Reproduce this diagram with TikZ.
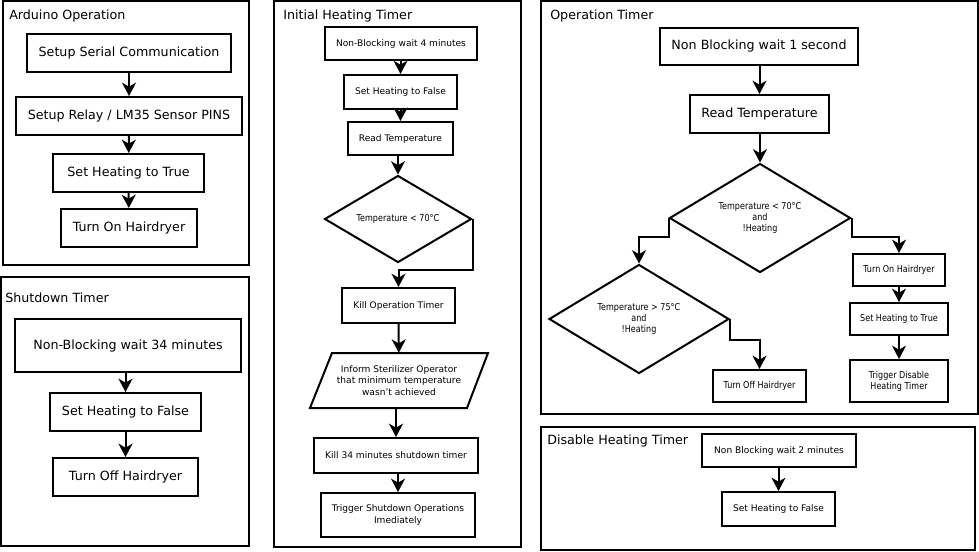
\documentclass[tikz,border=0pt]{standalone}
\usepackage{fontspec}
\setmainfont{DejaVu Sans}
\newfontfamily\condfont{DejaVu Sans}[FakeStretch=0.85]
\usetikzlibrary{shapes.geometric,arrows.meta}
\tikzset{
 x=0.75pt, y=-0.75pt,
 frame/.style={draw, line width=1.5pt},
 ttl/.style={anchor=base west, font=\fontsize{9.5}{11}\selectfont, inner sep=0},
 big/.style={draw, line width=1.5pt, font=\fontsize{9.5}{11.5}\selectfont, inner sep=0, align=center},
 sml/.style={draw, line width=1.5pt, font=\fontsize{6.8}{8.3}\selectfont, inner sep=0, align=center},
 cnd/.style={draw, line width=1.5pt, font=\condfont\fontsize{7.1}{8.3}\selectfont, inner sep=0, align=center},
 dmd/.style={draw, diamond, line width=1.5pt, font=\condfont\fontsize{7.1}{8.3}\selectfont, inner sep=0, align=center, aspect=1.7},
 arr/.style={-{Stealth[length=10pt,width=10.5pt,inset=3pt]}, line width=1.5pt},
}
\newcommand\flowrect[7]{\node[#1, minimum width={(#5-#3)*0.75pt}, minimum height={(#6-#4)*0.75pt}] (#2) at ({(#3+#5)/2},{(#4+#6)/2}) {#7};}
\begin{document}
\begin{tikzpicture}
\useasboundingbox (0,0) rectangle (979,551);
% frames
\draw[frame] (3,1) rectangle (249,265);
\draw[frame] (1,277) rectangle (249,546);
\draw[frame] (274,1) rectangle (521,547);
\draw[frame] (541,1) rectangle (978,414);
\draw[frame] (541,427) rectangle (975,550);
% titles
\node[ttl] (t1) at (9,19) {Arduino Operation};
\node[ttl] (t2) at (5,302) {Shutdown Timer};
\node[ttl] (t3) at (283,19) {Initial Heating Timer};
\node[ttl] (t4) at (550,19) {Operation Timer};
\node[ttl] (t5) at (547,444) {Disable Heating Timer};
% Arduino operation
\flowrect{big}{a1}{27}{34}{231}{72}{Setup Serial Communication}
\flowrect{big}{a2}{16}{97}{242}{135}{Setup Relay / LM35 Sensor PINS}
\flowrect{big}{a3}{53}{154}{204}{192}{Set Heating to True}
\flowrect{big}{a4}{61}{209}{197}{247}{Turn On Hairdryer}
\draw[arr] (a1) -- (a2);
\draw[arr] (a2) -- (a3);
\draw[arr] (a3) -- (a4);
% Shutdown timer
\flowrect{big}{s1}{15}{319}{241}{372}{Non-Blocking wait 34 minutes}
\flowrect{big}{s2}{50}{393}{201}{431}{Set Heating to False}
\flowrect{big}{s3}{53}{458}{198}{496}{Turn Off Hairdryer}
\draw[arr] (s1.south -| s2) -- (s2);
\draw[arr] (s2) -- (s3);
% Initial heating timer
\flowrect{sml}{i1}{325}{27}{477}{60}{Non-Blocking wait 4 minutes}
\flowrect{sml}{i2}{344}{75}{457}{109}{Set Heating to False}
\flowrect{sml}{i3}{348}{122}{453}{155}{Read Temperature}
\node[dmd, minimum width={147*0.75pt}, minimum height={87*0.75pt}] (id) at (398,219) {Temperature < 70°C};
\flowrect{sml}{kop}{342}{288}{455}{323}{Kill Operation Timer}
\node[font=\fontsize{6.8}{8.5}\selectfont, align=center, inner sep=0, minimum width={156*0.75pt}, minimum height={55*0.75pt}] (inf) at (399,380.5) {Inform Sterilizer Operator\\that minimum temperature\\wasn't achieved};
\draw[line width=1.5pt] (332,353) -- (488,353) -- (467,408) -- (310,408) -- cycle;
\flowrect{sml}{k34}{314}{438}{478}{473}{Kill 34 minutes shutdown timer}
\flowrect{sml}{trig}{321}{493}{475}{537}{Trigger Shutdown Operations\\Imediately}
\draw[arr] (i1.south -| i2) -- (i2);
\draw[arr] (i2) -- (i3);
\draw[arr] (i3.south -| id) -- (id);
\draw[arr] (id.east) -- ++(0,51) -| (kop.north);
\draw[arr] (kop) -- (inf);
\draw[arr] (inf.south -| k34) -- (k34);
\draw[arr] (k34.south -| trig) -- (trig);
% Operation timer
\flowrect{big}{o1}{660}{28}{858}{65}{Non Blocking wait 1 second}
\flowrect{big}{o2}{690}{95}{829}{133}{Read Temperature}
\node[dmd, minimum width={181*0.75pt}, minimum height={109*0.75pt}] (od1) at (760,218) {Temperature < 70°C\\and\\!Heating};
\node[dmd, minimum width={180*0.75pt}, minimum height={109*0.75pt}] (od2) at (639,319) {Temperature > 75°C\\and\\!Heating};
\flowrect{cnd}{ton}{853}{254}{945}{286}{Turn On Hairdryer}
\flowrect{cnd}{sht}{850}{303}{948}{335}{Set Heating to True}
\flowrect{cnd}{tdis}{850}{360}{948}{402}{Trigger Disable\\Heating Timer}
\flowrect{cnd}{toff}{713}{370}{806}{402}{Turn Off Hairdryer}
\draw[arr] (o1.south -| o2) -- (o2);
\draw[arr] (o2.south -| od1) -- (od1);
\draw[arr] (od1.west) -- ++(0,19) -| (od2.north);
\draw[arr] (od1.east) -- ++(0,19) -| (ton.north);
\draw[arr] (od2.east) -- ++(0,21) -| (toff.north);
\draw[arr] (ton) -- (sht);
\draw[arr] (sht) -- (tdis);
% Disable heating timer
\flowrect{sml}{h1}{702}{434}{856}{467}{Non Blocking wait 2 minutes}
\flowrect{sml}{h2}{722}{492}{835}{526}{Set Heating to False}
\draw[arr] (h1.south -| h2) -- (h2);
\end{tikzpicture}
\end{document}
